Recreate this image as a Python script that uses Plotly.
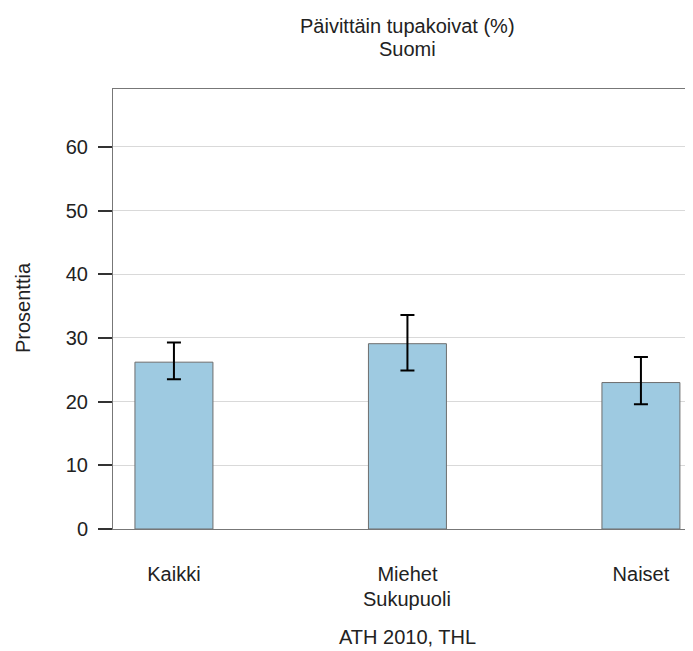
import plotly.graph_objects as go

categories = ["Kaikki", "Miehet", "Naiset"]
values = [26.2, 29.1, 23.0]
ci_upper = [29.3, 33.6, 27.0]
ci_lower = [23.5, 24.9, 19.6]

err_plus = [u - v for u, v in zip(ci_upper, values)]
err_minus = [v - l for v, l in zip(values, ci_lower)]

font = "Liberation Sans, Arial, sans-serif"
FS = 20
OFF = 7  # page offset of the figure inside the browser window

W, H = 686, 644
L, R, T, B = 112 - OFF, 1, 88 - OFF, 644 - (528 - OFF)
pw = W - L - R
ph = H - T - B

def xpaper(px):
    return (px - OFF - L) / pw

def ypaper(py):
    return (H - B - (py - OFF)) / ph

fig = go.Figure()
fig.add_trace(go.Bar(
    x=list(range(len(categories))), y=values, width=0.334,
    marker=dict(color="#9ecae1", line=dict(color="#6e6e6e", width=1)),
    error_y=dict(type="data", symmetric=False, array=err_plus, arrayminus=err_minus,
                 color="black", thickness=2, width=7),
    hoverinfo="skip",
))

fig.update_layout(
    width=W, height=H,
    margin=dict(l=L, r=R, t=T, b=B),
    plot_bgcolor="white", paper_bgcolor="white",
    showlegend=False,
    font=dict(family=font, size=FS, color="#222222"),
    xaxis=dict(range=[-0.261, 2.223], tickmode="array", tickvals=list(range(len(categories))),
               ticktext=categories, showgrid=False, showline=True, mirror=True,
               linecolor="#777777", linewidth=1, ticks="", ticklabelstandoff=27,
               tickfont=dict(size=FS, family=font, color="#222222"), zeroline=False),
    yaxis=dict(range=[0, 69.1], tickvals=[0, 10, 20, 30, 40, 50, 60], showgrid=True,
               gridcolor="#d9d9d9", gridwidth=1, showline=True, mirror=True,
               linecolor="#777777", linewidth=1, ticks="outside", ticklen=14,
               tickcolor="#333333", tickwidth=2, zeroline=False, ticklabelstandoff=6,
               tickfont=dict(size=FS, family=font, color="#222222")),
)

annos = [
    ("Päivittäin tupakoivat (%)", 406, 25),
    ("Suomi", 406, 48),
    ("Sukupuoli", 406, 598),
    ("ATH 2010, THL", 406, 636),
]
for text, px, py in annos:
    fig.add_annotation(text=text, x=xpaper(px), y=ypaper(py), xref="paper", yref="paper",
                       showarrow=False, xanchor="center", yanchor="middle",
                       font=dict(size=FS, family=font, color="#222222"))
fig.add_annotation(text="Prosenttia", x=xpaper(22), y=ypaper(307), xref="paper", yref="paper",
                   showarrow=False, textangle=-90, xanchor="center", yanchor="middle",
                   font=dict(size=FS, family=font, color="#222222"))

fig.write_html("out.html")
